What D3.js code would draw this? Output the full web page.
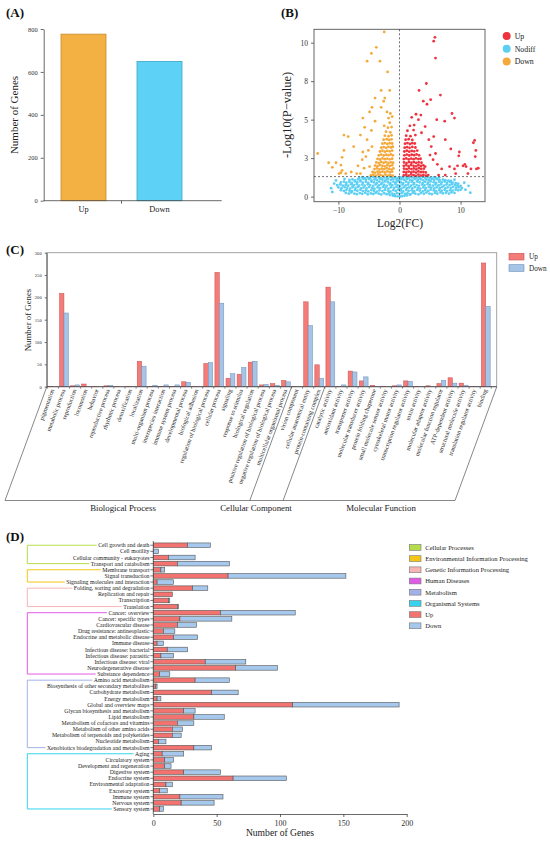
<!DOCTYPE html>
<html>
<head>
<meta charset="utf-8">
<script src="https://cdn.jsdelivr.net/npm/d3@7"></script>
<style>
body { margin:0; background:#fff; }
svg { display:block; font-family:"Liberation Serif","Times New Roman",serif; }
</style>
</head>
<body>
<div id="figure"></div>
<script>
// ---------- data ----------
var degCats = ["Up", "Down"];
var degCounts = [776, 649];

var volLegend = ["Up", "Nodiff", "Down"];
var volUp = [
 [5.8,10.35],[5.6,10.1],[5.9,9.0],[4.4,7.35],[3.2,6.9],[6.7,6.6],[3.9,6.2],[4.5,6.0],[5.1,6.3],[8.6,5.4],[9.0,5.1],
 [6.1,5.0],[7.4,4.9],[2.7,5.35],[3.5,5.3],[2.0,5.15],[7.5,3.7],[8.4,3.1],[9.8,2.9],[9.7,2.65],[12.3,3.65],[12.1,3.5],
 [12.5,3.0],[12.4,2.6],[10.7,2.1],[10.4,2.0],[10.9,1.95],[9.5,2.0],[9.0,1.8],[12.9,1.85],[12.6,1.8],[11.7,1.8],[11.2,1.5],
 [9.2,1.5],[7.5,1.4],[6.9,1.8],[6.2,2.1],[5.5,2.4],[5.9,2.8],[5.2,3.25],[4.8,3.7],[5.6,3.9],[4.2,4.55],[3.6,4.15],
 [5.0,2.7],[4.2,1.95],[3.1,5.0],[2.4,4.65],[6.4,1.4],[8.2,1.95],
 [0.7,1.38],[1.1,1.42],[1.5,1.36],[1.9,1.44],[2.3,1.39],[2.7,1.35],[3.1,1.43],[3.5,1.37],[3.9,1.41],[4.3,1.36],[4.7,1.4],
 [0.7,1.6],[1.1,1.57],[1.5,1.63],[1.9,1.58],[2.3,1.62],[2.7,1.56],[3.1,1.64],[3.5,1.59],[3.9,1.61],[4.3,1.57],
 [0.75,1.82],[1.15,1.78],[1.55,1.84],[1.95,1.79],[2.35,1.83],[2.75,1.77],[3.15,1.85],[3.55,1.8],[4.0,1.82],
 [0.7,2.0],[1.1,2.04],[1.5,1.98],[1.9,2.05],[2.3,2.0],[2.7,1.97],[3.1,2.04],[3.5,1.99],[3.9,2.03],
 [0.75,2.22],[1.15,2.18],[1.55,2.25],[1.95,2.2],[2.35,2.24],[2.75,2.19],[3.15,2.23],[3.6,2.2],
 [0.7,2.44],[1.1,2.48],[1.5,2.42],[1.9,2.47],[2.3,2.43],[2.7,2.49],[3.1,2.44],[3.45,2.46],
 [0.8,2.68],[1.2,2.73],[1.6,2.67],[2.0,2.72],[2.4,2.69],[2.8,2.74],[3.2,2.68],
 [0.8,2.93],[1.2,2.98],[1.6,2.92],[2.0,2.97],[2.4,2.94],[2.9,2.99],
 [0.85,3.18],[1.25,3.22],[1.65,3.17],[2.1,3.23],[2.6,3.19],
 [0.9,3.44],[1.3,3.48],[1.7,3.42],[2.1,3.47],[2.5,3.45],
 [1.0,3.7],[1.5,3.73],[2.1,3.68],[1.1,3.96],[1.8,3.93],[2.6,4.0],[1.3,4.28],[2.3,4.32],[1.7,4.6]
];
var volDown = [
 [-2.5,10.7],[-4.6,9.3],[-3.8,9.7],[-5.3,8.8],[-3.2,8.8],[-1.95,8.1],[-3.0,6.9],[-1.6,6.9],[-4.0,6.4],[-2.4,6.4],
 [-2.6,6.2],[-6.0,5.1],[-4.9,5.5],[-4.5,5.8],[-9.1,4.0],[-8.4,3.9],[-13.4,2.8],[-11.6,2.2],[-10.4,2.2],[-11.0,1.9],
 [-9.6,2.05],[-9.4,1.7],[-9.9,1.5],[-8.8,1.5],[-7.9,1.6],[-7.0,1.5],[-6.8,2.0],[-6.1,2.4],[-5.5,2.6],[-9.1,3.0],
 [-9.4,2.55],[-9.6,1.55],[-7.5,3.25],[-6.4,4.0],[-5.3,3.7],[-5.7,4.5],[-4.6,4.3],[-4.0,4.9],[-4.5,3.25],[-5.1,3.0],
 [-6.0,2.9],[-3.0,5.8],[-2.05,5.5],[-1.5,5.4],[-1.8,5.1],[-6.4,1.5],[-5.8,1.85],[-4.9,1.95],
 [-4.7,1.38],[-4.3,1.42],[-3.9,1.36],[-3.5,1.44],[-3.1,1.39],[-2.7,1.35],[-2.3,1.43],[-1.9,1.37],[-1.5,1.41],[-1.1,1.36],
 [-4.4,1.6],[-4.0,1.56],[-3.6,1.63],[-3.2,1.58],[-2.8,1.62],[-2.4,1.57],[-2.0,1.64],[-1.6,1.59],[-1.2,1.62],
 [-4.1,1.79],[-3.7,1.84],[-3.3,1.77],[-2.9,1.82],[-2.5,1.78],[-2.1,1.85],[-1.7,1.8],[-1.3,1.76],[-1.0,1.83],
 [-4.0,2.02],[-3.6,1.98],[-3.2,2.05],[-2.8,2.0],[-2.4,1.97],[-2.0,2.04],[-1.6,1.99],[-1.2,2.03],
 [-3.8,2.22],[-3.4,2.18],[-3.0,2.25],[-2.6,2.2],[-2.2,2.24],[-1.8,2.19],[-1.4,2.23],[-1.05,2.2],
 [-3.6,2.45],[-3.2,2.41],[-2.8,2.48],[-2.4,2.43],[-2.0,2.47],[-1.6,2.42],[-1.2,2.46],
 [-3.4,2.68],[-3.0,2.73],[-2.6,2.67],[-2.2,2.72],[-1.8,2.69],[-1.4,2.74],[-1.1,2.68],
 [-3.2,2.93],[-2.8,2.98],[-2.4,2.92],[-2.0,2.97],[-1.6,2.94],[-1.2,2.99],
 [-3.0,3.18],[-2.6,3.22],[-2.2,3.17],[-1.8,3.23],[-1.4,3.19],[-1.1,3.24],
 [-2.8,3.44],[-2.4,3.48],[-2.0,3.42],[-1.6,3.47],[-1.2,3.45],
 [-2.6,3.7],[-2.1,3.73],[-1.7,3.68],[-1.3,3.72],[-2.4,3.96],[-1.8,3.93],[-1.3,3.98],
 [-2.2,4.22],[-1.5,4.18],[-1.9,4.48],[-1.3,4.52],[-1.6,4.8],[-2.5,4.6],[-1.2,5.2]
];
var volNodiff = [
 [-1.6,0.1],[-1.1,0.06],[-0.7,0.03],[-0.3,0.02],[0.1,0.0],[0.4,0.03],[0.8,0.05],[1.2,0.08],[1.7,0.12],
 [-8.8,0.24],[-8.3,0.19],[-7.9,0.27],[-7.4,0.2],[-7.0,0.16],[-6.5,0.23],[-6.1,0.18],[-5.6,0.25],[-5.2,0.15],[-4.7,0.21],
 [-4.3,0.17],[-3.9,0.24],[-3.4,0.19],[-3.0,0.14],[-2.5,0.22],[-2.1,0.16],[-1.7,0.25],[-1.2,0.2],[-0.8,0.15],[-0.4,0.23],
 [0.0,0.18],[0.4,0.24],[0.9,0.17],[1.3,0.22],[1.8,0.16],[2.2,0.25],[2.6,0.19],[3.1,0.15],[3.5,0.23],[4.0,0.18],[4.4,0.26],
 [4.9,0.2],[5.3,0.16],[5.8,0.24],[6.2,0.19],[6.7,0.27],[7.1,0.21],[7.6,0.25],[8.1,0.2],[8.5,0.28],[9.0,0.24],
 [-9.6,0.42],[-9.1,0.37],[-8.7,0.44],[-8.2,0.39],[-7.8,0.35],[-7.3,0.43],[-6.9,0.38],[-6.4,0.45],[-6.0,0.36],[-5.5,0.41],
 [-5.1,0.34],[-4.6,0.43],[-4.2,0.38],[-3.7,0.33],[-3.3,0.41],[-2.8,0.36],[-2.4,0.44],[-1.9,0.39],[-1.5,0.34],[-1.0,0.42],
 [-0.6,0.37],[-0.2,0.45],[0.2,0.4],[0.6,0.34],[1.1,0.43],[1.5,0.37],[2.0,0.41],[2.4,0.35],[2.9,0.44],[3.3,0.39],[3.8,0.34],
 [4.2,0.42],[4.7,0.37],[5.1,0.45],[5.6,0.4],[6.0,0.35],[6.5,0.43],[6.9,0.38],[7.4,0.44],[7.8,0.36],[8.3,0.42],[8.7,0.39],
 [9.2,0.45],[9.6,0.41],[10.0,0.44],
 [-10.0,0.6],[-9.5,0.55],[-9.0,0.62],[-8.6,0.57],[-8.1,0.52],[-7.7,0.61],[-7.2,0.56],[-6.8,0.63],[-6.3,0.54],[-5.9,0.59],
 [-5.4,0.53],[-5.0,0.62],[-4.5,0.57],[-4.1,0.51],[-3.6,0.6],[-3.2,0.55],[-2.7,0.63],[-2.3,0.58],[-1.8,0.52],[-1.4,0.61],
 [-0.9,0.56],[-0.5,0.64],[-0.1,0.57],[0.3,0.52],[0.7,0.61],[1.2,0.55],[1.6,0.6],[2.1,0.53],[2.5,0.62],[3.0,0.57],[3.4,0.52],
 [3.9,0.6],[4.3,0.55],[4.8,0.63],[5.2,0.58],[5.7,0.53],[6.1,0.61],[6.6,0.56],[7.0,0.62],[7.5,0.54],[7.9,0.6],[8.4,0.57],
 [8.8,0.63],[9.3,0.58],[9.7,0.61],[10.2,0.56],
 [-10.2,0.74],[-9.7,0.79],[-9.3,0.72],[-8.8,0.77],[-8.4,0.71],[-7.9,0.8],[-7.5,0.74],[-7.0,0.81],[-6.6,0.72],[-6.1,0.78],
 [-5.7,0.71],[-5.2,0.8],[-4.8,0.75],[-4.3,0.7],[-3.9,0.79],[-3.4,0.73],[-3.0,0.81],[-2.5,0.76],[-2.1,0.7],[-1.6,0.79],
 [-1.2,0.74],[-0.7,0.82],[-0.3,0.75],[0.1,0.7],[0.5,0.79],[1.0,0.73],[1.4,0.78],[1.9,0.71],[2.3,0.8],[2.8,0.75],[3.2,0.7],
 [3.7,0.78],[4.1,0.73],[4.6,0.81],[5.0,0.76],[5.5,0.71],[5.9,0.79],[6.4,0.74],[6.8,0.8],[7.3,0.72],[7.7,0.78],[8.2,0.75],
 [8.6,0.81],[9.1,0.76],[9.5,0.73],[10.0,0.7],
 [-9.6,0.92],[-9.1,0.97],[-8.7,0.9],[-8.2,0.95],[-7.8,0.89],[-7.3,0.98],[-6.9,0.92],[-6.4,0.99],[-6.0,0.9],[-5.5,0.96],
 [-5.1,0.89],[-4.6,0.98],[-4.2,0.93],[-3.7,0.88],[-3.3,0.97],[-2.8,0.91],[-2.4,0.99],[-1.9,0.94],[-1.5,0.88],[-1.0,0.97],
 [-0.6,0.92],[-0.2,1.0],[0.2,0.93],[0.6,0.88],[1.1,0.97],[1.5,0.91],[2.0,0.96],[2.4,0.89],[2.9,0.98],[3.3,0.93],[3.8,0.88],
 [4.2,0.96],[4.7,0.91],[5.1,0.99],[5.6,0.94],[6.0,0.89],[6.5,0.97],[6.9,0.92],[7.4,0.98],[7.8,0.9],[8.3,0.95],[8.7,0.91],
 [9.2,0.88],[9.6,0.85],
 [-8.2,1.08],[-7.7,1.12],[-7.3,1.06],[-6.8,1.13],[-6.4,1.07],[-5.9,1.15],[-5.5,1.09],[-5.0,1.14],[-4.6,1.06],[-4.1,1.12],
 [-3.7,1.07],[-3.2,1.15],[-2.8,1.1],[-2.3,1.05],[-1.9,1.13],[-1.4,1.08],[-1.0,1.15],[-0.5,1.1],[-0.1,1.05],[0.3,1.13],
 [0.8,1.08],[1.2,1.15],[1.7,1.09],[2.1,1.06],[2.6,1.14],[3.0,1.08],[3.5,1.13],[3.9,1.06],[4.4,1.12],[4.8,1.07],[5.3,1.14],
 [5.7,1.09],[6.2,1.13],[6.6,1.06],[7.1,1.11],[7.5,1.07],[8.0,1.04],[8.4,1.02],
 [-6.6,1.22],[-6.1,1.26],[-5.7,1.2],[-5.2,1.25],[-4.8,1.21],[-4.3,1.27],[-3.9,1.22],[-3.4,1.26],[-3.0,1.2],[-2.5,1.25],
 [-2.1,1.21],[-1.6,1.27],[-1.2,1.22],[-0.7,1.26],[-0.3,1.2],[0.2,1.25],[0.6,1.21],[1.1,1.27],[1.5,1.22],[2.0,1.26],
 [2.4,1.2],[2.9,1.25],[3.3,1.21],[3.8,1.27],[4.2,1.22],[4.7,1.26],[5.1,1.2],[5.6,1.25],[6.0,1.21],[6.5,1.24],
 [-11.2,0.55],[-10.7,0.85],[-11.0,0.3],[-10.4,1.05],[-9.0,1.15],[9.0,1.1],[10.6,0.9],[10.8,0.45],[11.3,0.7],[11.6,0.25]
];

var goTerms = ["pigmentation","metabolic process","reproduction","locomotion","behavior","reproductive process",
 "rhythmic process","detoxification","localization","multi-organism process","interspecies interaction",
 "immune system process","developmental process","biological adhesion","regulation of biological process",
 "cellular process","signaling","response to stimulus","biological regulation",
 "positive regulation of biological process","negative regulation of biological process",
 "multicellular organismal process",
 "virion component","cellular anatomical entity","protein-containing complex",
 "catalytic activity","antioxidant activity","transporter activity","molecular transducer activity",
 "protein folding chaperone","small molecule sensor activity","cytoskeletal motor activity",
 "transcription regulator activity","toxin activity","molecular adaptor activity","molecular function regulator",
 "ATP-dependent activity","structural molecule activity","translation regulator activity","binding"];
var goGroups = ["Biological Process", "Cellular Component", "Molecular Function"];
var goGroupSizes = [22, 3, 15];
var goUp   = [1,209,2,6,1,2,1,1,57,1,1,1,11,1,52,256,19,28,55,4,7,14,1,190,49,223,1,35,13,3,1,2,13,1,2,7,20,8,1,277];
var goDown = [0,165,4,0,0,3,0,1,46,3,4,4,10,1,54,187,29,43,57,5,3,11,1,137,19,190,4,33,22,1,0,4,12,1,1,14,8,3,1,180];
var goTicks = [0,50,100,150,200,250,300];

var keggPaths = ["Cell growth and death","Cell motility","Cellular community - eukaryotes","Transport and catabolism",
 "Membrane transport","Signal transduction","Signaling molecules and interaction",
 "Folding, sorting and degradation","Replication and repair","Transcription","Translation",
 "Cancer: overview","Cancer: specific types","Cardiovascular disease","Drug resistance: antineoplastic",
 "Endocrine and metabolic disease","Immune disease","Infectious disease: bacterial","Infectious disease: parasitic",
 "Infectious disease: viral","Neurodegenerative disease","Substance dependence",
 "Amino acid metabolism","Biosynthesis of other secondary metabolites","Carbohydrate metabolism","Energy metabolism",
 "Global and overview maps","Glycan biosynthesis and metabolism","Lipid metabolism","Metabolism of cofactors and vitamins",
 "Metabolism of other amino acids","Metabolism of terpenoids and polyketides","Nucleotide metabolism",
 "Xenobiotics biodegradation and metabolism",
 "Aging","Circulatory system","Development and regeneration","Digestive system","Endocrine system",
 "Environmental adaptation","Excretory system","Immune system","Nervous system","Sensory system"];
var keggUp   = [27,0,12,19,6,59,3,31,15,12,19,53,21,19,8,16,3,11,6,41,65,5,33,2,46,3,110,24,32,19,15,15,4,32,7,9,9,24,63,10,5,21,22,5];
var keggDown = [18,4,21,41,3,93,13,12,0,1,1,59,41,15,9,19,5,16,10,32,33,8,27,1,21,3,84,9,24,13,8,7,6,14,17,7,5,29,42,5,6,34,26,3];
var keggClasses = ["Cellular Processes","Environmental Information Processing","Genetic Information Processing",
 "Human Diseases","Metabolism","Organismal Systems"];
var keggClassSizes = [4, 3, 4, 11, 12, 10];
var keggTicks = [0,50,100,150,200];

// ---------- styles ----------
var degFill = ["#F3B043", "#5DD2F6"], degStroke = ["#C88A2C", "#3AA5C4"];
var volColor = {Up:"#EE3340", Nodiff:"#5CCFF3", Down:"#F4A93A"};
var goFill = {Up:"#F37B78", Down:"#A6C4E6"}, goStroke = {Up:"#C9504E", Down:"#6D8EB8"};
var keggFill = {Up:"#F2736F", Down:"#A5C8EC"};
var classColors = ["#B5DD4A", "#F5C518", "#F8B5B5", "#E05CE6", "#A2B2E8", "#35D3EE"];
var axisCol = "#444";

var W = 550, H = 841;
var svg = d3.select("#figure").append("svg").attr("width", W).attr("height", H);
svg.append("rect").attr("width", W).attr("height", H).attr("fill", "#fff");

function panelLabel(t, x, y) {
	svg.append("text").text(t).attr("x", x).attr("y", y)
	.attr("font-size", "13px").attr("font-weight", "bold").attr("fill", "#111");
}

function styleAxis(g, fs) {
	g.selectAll("path,line").attr("stroke", axisCol).attr("stroke-width", 0.8);
	g.selectAll("text").attr("font-family", "Liberation Serif").attr("font-size", fs).attr("fill", "#333");
}

// ---------- (A) ----------
function drawA() {
	var x = d3.scaleBand().domain(degCats).range([45.8, 197.2]).paddingInner(0.408).paddingOuter(0.2);
	var y = d3.scaleLinear().domain([0, 800]).range([200.7, 29]);
	var g = svg.append("g");

	g.selectAll("rect.deg").data(degCats).enter().append("rect")
	.attr("class", "deg")
	.attr("x", function(d) { return x(d); })
	.attr("y", function(d, i) { return y(degCounts[i]); })
	.attr("width", x.bandwidth())
	.attr("height", function(d, i) { return y(0) - y(degCounts[i]); })
	.attr("fill", function(d, i) { return degFill[i]; })
	.attr("stroke", function(d, i) { return degStroke[i]; })
	.attr("stroke-width", 0.8);

	var ya = g.append("g").attr("transform", "translate(43.7,0)")
	.call(d3.axisLeft(y).tickValues([0, 200, 400, 600, 800]).tickSize(3).tickSizeOuter(0));
	styleAxis(ya, "6.5px");

	g.append("line").attr("x1", 43.7).attr("x2", 221.7).attr("y1", y(0)).attr("y2", y(0))
	.attr("stroke", axisCol).attr("stroke-width", 0.8);
	var mid = (x("Up") + x.bandwidth() + x("Down")) / 2;
	g.append("line").attr("x1", mid).attr("x2", mid).attr("y1", y(0)).attr("y2", y(0) + 3)
	.attr("stroke", axisCol).attr("stroke-width", 0.8);

	g.selectAll("text.cat").data(degCats).enter().append("text")
	.attr("x", function(d) { return x(d) + x.bandwidth() / 2; })
	.attr("y", 211.5).attr("text-anchor", "middle").attr("font-size", "8.3px").attr("fill", "#222")
	.text(function(d) { return d; });

	g.append("text").attr("transform", "translate(18,115) rotate(-90)").attr("text-anchor", "middle")
	.attr("font-size", "11px").attr("fill", "#222").text("Number of Genes");
	panelLabel("(A)", 6, 17);
}

// ---------- (B) ----------
function drawB() {
	var x = d3.scaleLinear().domain([-14, 14]).range([314, 485]);
	var y = d3.scaleLinear().domain([-0.33, 10.87]).range([201.7, 29.3]);
	var g = svg.append("g");

	g.append("rect").attr("x", 314).attr("y", 29.3).attr("width", 171).attr("height", 172.4)
	.attr("fill", "none").attr("stroke", "#555").attr("stroke-width", 0.9);

	var sets = [["Nodiff", volNodiff], ["Up", volUp], ["Down", volDown]];
	sets.forEach(function(s) {
		g.selectAll("circle.v" + s[0]).data(s[1]).enter().append("circle")
		.attr("class", "v" + s[0])
		.attr("cx", function(d) { return x(d[0]); })
		.attr("cy", function(d) { return y(d[1]); })
		.attr("r", 1.4)
		.attr("fill", volColor[s[0]]);
	});

	g.append("line").attr("x1", x(0)).attr("x2", x(0)).attr("y1", 29.3).attr("y2", 201.7)
	.attr("stroke", "#333").attr("stroke-width", 0.7).attr("stroke-dasharray", "2,2");
	g.append("line").attr("x1", 314).attr("x2", 485).attr("y1", y(1.3)).attr("y2", y(1.3))
	.attr("stroke", "#333").attr("stroke-width", 0.7).attr("stroke-dasharray", "2,2");

	var xa = g.append("g").attr("transform", "translate(0,201.7)")
	.call(d3.axisBottom(x).tickValues([-10, 0, 10]).tickSize(3).tickSizeOuter(0));
	styleAxis(xa, "7.5px");
	xa.select("path").remove();
	var ya = g.append("g").attr("transform", "translate(314,0)")
	.call(d3.axisLeft(y).tickValues([0, 2.5, 5, 7.5, 10]).tickSize(3).tickSizeOuter(0));
	styleAxis(ya, "7.5px");
	ya.select("path").remove();

	g.append("text").attr("x", 400).attr("y", 226.5).attr("text-anchor", "middle")
	.attr("font-size", "11.5px").attr("fill", "#222").text("Log2(FC)");
	g.append("text").attr("transform", "translate(291,115) rotate(-90)").attr("text-anchor", "middle")
	.attr("font-size", "12.5px").attr("fill", "#222").text("-Log10(P\u2212value)");

	var lg = g.selectAll("g.vleg").data(volLegend).enter().append("g")
	.attr("transform", function(d, i) { return "translate(506.7," + (36 + i * 12.8) + ")"; });
	lg.append("circle").attr("r", 4).attr("fill", function(d) { return volColor[d]; });
	lg.append("text").attr("x", 8).attr("y", 2.8).attr("font-size", "7.8px").attr("fill", "#222")
	.text(function(d) { return d; });
	panelLabel("(B)", 281, 17);
}

// ---------- (C) ----------
function drawC() {
	var x = d3.scaleBand().domain(goTerms).range([47.3, 491.3]).paddingInner(0.2).paddingOuter(0.1);
	var xs = d3.scaleBand().domain(["Up", "Down"]).range([0, x.bandwidth()]);
	var y = d3.scaleLinear().domain([0, 300]).range([386.7, 252.7]);
	var step = x.step();
	var g = svg.append("g");

	g.append("rect").attr("x", 46.7).attr("y", 252.7).attr("width", 450).attr("height", 134)
	.attr("fill", "none").attr("stroke", "#999").attr("stroke-width", 0.9);

	var rows = goTerms.map(function(t, i) { return {term: t, Up: goUp[i], Down: goDown[i]}; });
	["Up", "Down"].forEach(function(k) {
		g.selectAll("rect.go" + k).data(rows).enter().append("rect")
		.attr("x", function(d) { return x(d.term) + xs(k); })
		.attr("y", function(d) { return y(d[k]); })
		.attr("width", xs.bandwidth())
		.attr("height", function(d) { return y(0) - y(d[k]); })
		.attr("fill", goFill[k]).attr("stroke", goStroke[k]).attr("stroke-width", 0.5);
	});

	var ya = g.append("g").attr("transform", "translate(46.7,0)")
	.call(d3.axisLeft(y).tickValues(goTicks).tickSize(2).tickSizeOuter(0));
	styleAxis(ya, "4.6px");
	g.append("line").attr("x1", 46.7).attr("x2", 496.7).attr("y1", y(0)).attr("y2", y(0))
	.attr("stroke", axisCol).attr("stroke-width", 0.8);
	var bounds = d3.range(goTerms.length + 1).map(function(i) { return 47.3 + i * step; });
	g.selectAll("line.gtick").data(bounds).enter().append("line")
	.attr("x1", function(d) { return d; }).attr("x2", function(d) { return d; })
	.attr("y1", y(0)).attr("y2", y(0) + 2).attr("stroke", axisCol).attr("stroke-width", 0.6);

	g.selectAll("text.term").data(goTerms).enter().append("text")
	.attr("transform", function(d) { return "translate(" + (x(d) + x.bandwidth() / 2 + 1.5) + ",390) rotate(-70)"; })
	.attr("text-anchor", "end").attr("font-size", "6.2px").attr("fill", "#222")
	.text(function(d) { return d; });

	// slanted group brackets
	var top = 387, bot = 500.5, slant = -41.7;
	var cum = 0, edges = [46.7];
	goGroupSizes.forEach(function(n, i) {
		cum += n;
		edges.push(i == goGroupSizes.length - 1 ? 496.7 : 47.3 + cum * step);
	});
	g.selectAll("line.gsep").data(edges).enter().append("line")
	.attr("x1", function(d) { return d; }).attr("y1", top)
	.attr("x2", function(d) { return d + slant; }).attr("y2", bot)
	.attr("stroke", "#555").attr("stroke-width", 0.7);
	g.append("line").attr("x1", edges[0] + slant).attr("x2", edges[edges.length - 1] + slant)
	.attr("y1", bot).attr("y2", bot).attr("stroke", "#555").attr("stroke-width", 0.7);
	var gx = [123, 256, 381];
	g.selectAll("text.grp").data(goGroups).enter().append("text")
	.attr("x", function(d, i) { return gx[i]; }).attr("y", 511).attr("text-anchor", "middle")
	.attr("font-size", "8.8px").attr("fill", "#222").text(function(d) { return d; });

	g.append("text").attr("transform", "translate(31,320) rotate(-90)").attr("text-anchor", "middle")
	.attr("font-size", "8.8px").attr("fill", "#222").text("Number of Genes");

	var lg = g.selectAll("g.cleg").data(["Up", "Down"]).enter().append("g")
	.attr("transform", function(d, i) { return "translate(509," + (253.3 + i * 11.4) + ")"; });
	lg.append("rect").attr("width", 15).attr("height", 6.7)
	.attr("fill", function(d) { return goFill[d]; }).attr("stroke", function(d) { return goStroke[d]; }).attr("stroke-width", 0.6);
	lg.append("text").attr("x", 20).attr("y", 5.8).attr("font-size", "7.2px").attr("fill", "#222")
	.text(function(d) { return d; });
	panelLabel("(C)", 6, 254);
}

// ---------- (D) ----------
function drawD() {
	var y = d3.scaleBand().domain(keggPaths).range([542.2, 812]).paddingInner(0.25).paddingOuter(0.12);
	var x = d3.scaleLinear().domain([0, 200]).range([153.3, 406.7]);
	var g = svg.append("g");

	var rows = keggPaths.map(function(p, i) { return {path: p, Up: keggUp[i], Down: keggDown[i]}; });
	var stack = d3.stack().keys(["Up", "Down"])(rows);
	g.selectAll("g.layer").data(stack).enter().append("g")
	.attr("fill", function(d) { return keggFill[d.key]; })
	.selectAll("rect").data(function(d) { return d; }).enter().append("rect")
	.attr("x", function(d) { return x(d[0]); })
	.attr("y", function(d) { return y(d.data.path); })
	.attr("width", function(d) { return x(d[1]) - x(d[0]); })
	.attr("height", y.bandwidth())
	.attr("stroke", "#555").attr("stroke-width", 0.6);

	var xa = g.append("g").attr("transform", "translate(0,814)")
	.call(d3.axisBottom(x).tickValues(keggTicks).tickSize(3).tickSizeOuter(0));
	styleAxis(xa, "8px");
	g.append("line").attr("x1", 153.3).attr("x2", 153.3).attr("y1", 541).attr("y2", 814)
	.attr("stroke", axisCol).attr("stroke-width", 0.8);
	g.selectAll("line.ktick").data(keggPaths).enter().append("line")
	.attr("x1", 150.3).attr("x2", 153.3)
	.attr("y1", function(d) { return y(d) + y.bandwidth() / 2; })
	.attr("y2", function(d) { return y(d) + y.bandwidth() / 2; })
	.attr("stroke", axisCol).attr("stroke-width", 0.7);

	var widths = {};
	g.selectAll("text.path").data(keggPaths).enter().append("text")
	.attr("x", 149.5).attr("y", function(d) { return y(d) + y.bandwidth() / 2 + 2; })
	.attr("text-anchor", "end").attr("font-size", "5.8px").attr("fill", "#222")
	.text(function(d) { return d; })
	.each(function(d) { widths[d] = this.getComputedTextLength(); });

	// class brackets
	var start = 0;
	keggClassSizes.forEach(function(n, i) {
		var a = keggPaths[start], b = keggPaths[start + n - 1];
		var ya0 = y(a) + y.bandwidth() / 2, yb = y(b) + y.bandwidth() / 2;
		var pts = [[149.5 - widths[a] - 1.5, ya0], [27.3, ya0], [27.3, yb], [149.5 - widths[b] - 1.5, yb]];
		g.append("path").attr("d", d3.line()(pts)).attr("fill", "none")
		.attr("stroke", classColors[i]).attr("stroke-width", 1);
		start += n;
	});

	g.append("text").attr("x", 280).attr("y", 836).attr("text-anchor", "middle")
	.attr("font-size", "9.6px").attr("fill", "#222").text("Number of Genes");

	var items = keggClasses.map(function(c, i) { return {label: c, fill: classColors[i]}; })
	.concat([{label: "Up", fill: keggFill.Up}, {label: "Down", fill: keggFill.Down}]);
	var lg = g.selectAll("g.dleg").data(items).enter().append("g")
	.attr("transform", function(d, i) { return "translate(409.3," + (544.5 + i * 11.2) + ")"; });
	lg.append("rect").attr("width", 11.7).attr("height", 5.8)
	.attr("fill", function(d) { return d.fill; }).attr("stroke", "#777").attr("stroke-width", 0.6);
	lg.append("text").attr("x", 16).attr("y", 5.2).attr("font-size", "6.6px").attr("fill", "#222")
	.text(function(d) { return d.label; });
	panelLabel("(D)", 6, 541);
}

drawA();
drawB();
drawC();
drawD();
</script>
</body>
</html>
